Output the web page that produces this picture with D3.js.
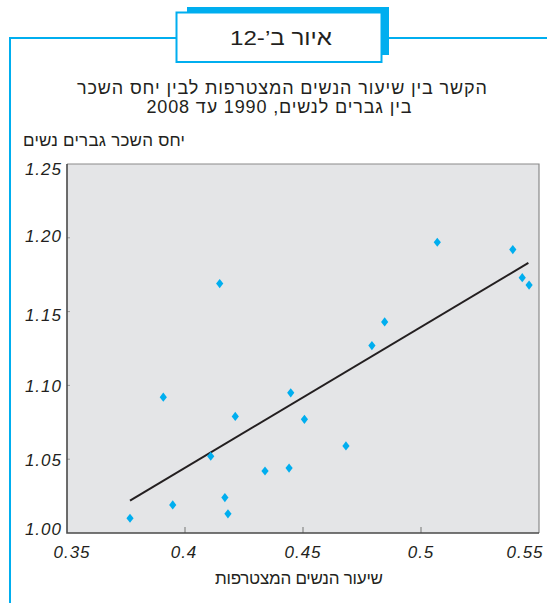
<!DOCTYPE html>
<html>
<head>
<meta charset="utf-8">
<script src="https://cdn.jsdelivr.net/npm/d3@7"></script>
<style>
  html, body { margin: 0; padding: 0; background: #fff; }
  svg { display: block; }
  .heb { font-family: "Liberation Sans", "DejaVu Sans", sans-serif; fill: #231f20; }
  .num { font-family: "Liberation Sans", Arial, sans-serif; font-style: italic; fill: #231f20; }
</style>
</head>
<body>
<svg id="chart" width="547" height="603"></svg>
<script>
// women participation rate vs. male/female wage ratio, 1990-2008
const participation = [0.3767, 0.3908, 0.3948, 0.4109, 0.4169, 0.4182, 0.4213, 0.4339, 0.4147, 0.4448,
  0.4506, 0.4682, 0.4441, 0.4792, 0.4846, 0.5069, 0.5389, 0.5429, 0.5458]
const wageRatio = [1.010, 1.092, 1.019, 1.052, 1.024, 1.013, 1.079, 1.042, 1.169, 1.095,
  1.077, 1.059, 1.044, 1.127, 1.143, 1.197, 1.192, 1.173, 1.168]
const trendX = [0.3767, 0.5455]
const trendY = [1.022, 1.183]
const xTicks = [0.35, 0.4, 0.45, 0.5, 0.55]
const xTickLabels = ['0.35', '0.4', '0.45', '0.5', '0.55']
const yTicks = [1.00, 1.05, 1.10, 1.15, 1.20, 1.25]
const yTickLabels = ['1.00', '1.05', '1.10', '1.15', '1.20', '1.25']

const figureLabel = 'איור ב’-12'
const titleLines = ['הקשר בין שיעור הנשים המצטרפות לבין יחס השכר', 'בין גברים לנשים, 1990 עד 2008']
const yTitle = 'יחס השכר גברים נשים'
const xTitle = 'שיעור הנשים המצטרפות'

const blue = '#00aeef'
const svg = d3.select('#chart')

// frame
svg.append('line').attr('x1', 10).attr('x2', 547).attr('y1', 38).attr('y2', 38)
  .attr('stroke', blue).attr('stroke-width', 2)
svg.append('line').attr('x1', 10).attr('x2', 10).attr('y1', 37).attr('y2', 603)
  .attr('stroke', blue).attr('stroke-width', 2)

// label box with shadow
svg.append('rect').attr('x', 187).attr('y', 7).attr('width', 202).attr('height', 48).attr('fill', blue)
svg.append('rect').attr('x', 176.5).attr('y', 12.5).attr('width', 205).attr('height', 49.5)
  .attr('fill', '#fff').attr('stroke', blue).attr('stroke-width', 2)
svg.append('text').attr('class', 'heb').attr('x', 281).attr('y', 45)
  .attr('direction', 'rtl').attr('text-anchor', 'middle')
  .attr('font-size', 21).attr('textLength', 102).attr('lengthAdjust', 'spacingAndGlyphs')
  .text(figureLabel)

// titles
const titleWidths = [410, 265]
titleLines.forEach((t, i) => {
  svg.append('text').attr('class', 'heb').attr('x', i ? 279 : 282).attr('y', 94 + i * 19)
    .attr('direction', 'rtl').attr('text-anchor', 'middle')
    .attr('font-size', 18).attr('textLength', titleWidths[i]).attr('lengthAdjust', 'spacing')
    .text(t)
})
svg.append('text').attr('class', 'heb').attr('x', 104).attr('y', 146)
  .attr('direction', 'rtl').attr('text-anchor', 'middle')
  .attr('font-size', 17).attr('textLength', 162).attr('lengthAdjust', 'spacing')
  .text(yTitle)
svg.append('text').attr('class', 'heb').attr('x', 299).attr('y', 584)
  .attr('direction', 'rtl').attr('text-anchor', 'middle')
  .attr('font-size', 17).attr('textLength', 168).attr('lengthAdjust', 'spacing')
  .text(xTitle)

// plot
const pLeft = 67, pRight = 539, pTop = 164, pBottom = 533
const x = d3.scaleLinear().domain([0.35, 0.55]).range([pLeft, pRight])
const y = d3.scaleLinear().domain([1.0, 1.25]).range([pBottom, pTop])

svg.append('rect').attr('x', pLeft).attr('y', pTop).attr('width', pRight - pLeft).attr('height', pBottom - pTop)
  .attr('fill', '#e4e5e7')

// ticks inside
svg.selectAll('line.xtick').data(xTicks.slice(1, -1)).join('line').attr('class', 'xtick')
  .attr('x1', d => x(d)).attr('x2', d => x(d)).attr('y1', pBottom).attr('y2', pBottom - 6)
  .attr('stroke', '#9a9a9a').attr('stroke-width', 1.5)
svg.selectAll('line.ytick').data(yTicks.slice(1, -1)).join('line').attr('class', 'ytick')
  .attr('x1', pLeft).attr('x2', pLeft + 3).attr('y1', d => y(d)).attr('y2', d => y(d))
  .attr('stroke', '#9a9a9a').attr('stroke-width', 1)

// borders
svg.append('path').attr('d', `M${pLeft},${pTop}H${pRight}V${pBottom}`)
  .attr('fill', 'none').attr('stroke', '#8a8a8a').attr('stroke-width', 1.2)
svg.append('path').attr('d', `M${pLeft},${pTop}V${pBottom}H${pRight}`)
  .attr('fill', 'none').attr('stroke', '#4a4a4a').attr('stroke-width', 1.6)

// tick labels
const xShift = [5, -1, 0, 0, -14]
svg.selectAll('text.xl').data(xTicks).join('text').attr('class', 'num xl')
  .attr('x', (d, i) => x(d) + xShift[i]).attr('y', 558)
  .attr('text-anchor', 'middle').attr('font-size', 17).attr('letter-spacing', 1)
  .text((d, i) => xTickLabels[i])
const yShift = [-4, 1, 1, 3, -2, 5]
svg.selectAll('text.yl').data(yTicks).join('text').attr('class', 'num yl')
  .attr('x', 62).attr('y', (d, i) => y(d) + 6 + yShift[i])
  .attr('text-anchor', 'end').attr('font-size', 17).attr('letter-spacing', 1)
  .text((d, i) => yTickLabels[i])

// trend line
svg.append('line')
  .attr('x1', x(trendX[0])).attr('y1', y(trendY[0]))
  .attr('x2', x(trendX[1])).attr('y2', y(trendY[1]))
  .attr('stroke', '#231f20').attr('stroke-width', 2)

// diamonds
svg.selectAll('path.pt').data(participation).join('path').attr('class', 'pt')
  .attr('transform', (d, i) => `translate(${x(d)},${y(wageRatio[i])})`)
  .attr('d', 'M0,-4.6L3.6,0L0,4.6L-3.6,0Z')
  .attr('fill', blue)
</script>
</body>
</html>
